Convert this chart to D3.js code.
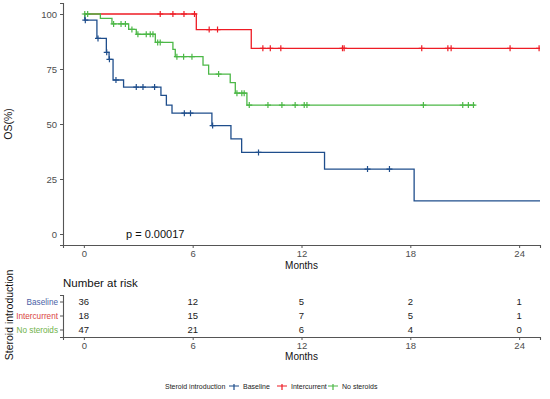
<!DOCTYPE html>
<html>
<head>
<meta charset="utf-8">
<script src="https://cdn.jsdelivr.net/npm/d3@7"></script>
<style>
  body { margin: 0; background: #fff; }
  text { font-family: "Liberation Sans", Arial, sans-serif; }
</style>
</head>
<body>
<div id="chart"></div>
<script>
// Data
const groups = ['Baseline', 'Intercurrent', 'No steroids'];
const colors = ['#1f4e8c', '#ee1c25', '#4cb847'];
const labelColors = ['#4a5fa6', '#d9453f', '#6fb24a'];

const baselineTimes = [0.05, 0.72, 1.24, 1.39, 1.61, 2.19, 4.25, 4.55, 4.86, 7.06, 8.11, 8.70, 13.27, 18.21];
const baselineSurv = [97.2, 88.9, 82.6, 79.4, 70.0, 66.8, 63.0, 58.6, 54.9, 49.3, 43.2, 37.1, 29.5, 15.1];
const baselineCensor = [0.08, 0.78, 1.26, 1.41, 1.77, 2.89, 3.26, 3.9, 5.54, 5.88, 7.1, 9.63, 15.64, 16.85];
const baselineEnd = 25.3;

const intercurrentTimes = [6.2, 9.23];
const intercurrentSurv = [92.9, 84.4];
const intercurrentCensor = [4.21, 4.91, 5.52, 6.1, 6.91, 7.37, 9.87, 10.28, 10.86, 14.26, 14.35, 18.63, 20.07, 20.25, 23.5, 25.1];
const intercurrentEnd = 25.3;

const noSteroidsTimes = [0.91, 1.55, 2.47, 2.89, 3.94, 4.91, 5.04, 6.57, 6.88, 8.07, 8.35, 8.99];
const noSteroidsSurv = [98.0, 95.5, 93.0, 90.8, 87.1, 83.9, 80.6, 76.8, 72.7, 68.8, 64.0, 58.6];
const noSteroidsCensor = [0.05, 0.21, 1.64, 2.05, 2.29, 2.65, 2.98, 3.44, 3.66, 3.81, 4.07, 4.21, 5.13, 5.5, 5.96,
    7.43, 8.44, 8.71, 8.84, 9.12, 10.15, 10.92, 11.65, 12.15, 12.3, 18.72, 20.89, 21.2, 21.48];
const noSteroidsEnd = 21.57;

const timeTicks = [0, 6, 12, 18, 24];
const survTicks = [0, 25, 50, 75, 100];
const riskBaseline = [36, 12, 5, 2, 1];
const riskIntercurrent = [18, 15, 7, 5, 1];
const riskNoSteroids = [47, 21, 6, 4, 0];

const series = [
    { times: baselineTimes, surv: baselineSurv, censor: baselineCensor, end: baselineEnd },
    { times: intercurrentTimes, surv: intercurrentSurv, censor: intercurrentCensor, end: intercurrentEnd },
    { times: noSteroidsTimes, surv: noSteroidsSurv, censor: noSteroidsCensor, end: noSteroidsEnd }
];
const riskRows = [riskBaseline, riskIntercurrent, riskNoSteroids];

const W = 550, H = 399;
const left = 63, right = 540;
const axisColor = '#555';

const svg = d3.select('#chart').append('svg')
    .attr('width', W)
    .attr('height', H);

const x = d3.scaleLinear().domain([-1.15, 25.15]).range([left, right]);
const y = d3.scaleLinear().domain([-5, 105]).range([245, 3]);

svg.append('clipPath').attr('id', 'panel')
    .append('rect')
    .attr('x', left).attr('y', 0)
    .attr('width', right - left).attr('height', 246);

// survival value at time t for one series
function survAt(s, t) {
    let v = 100;
    s.times.forEach((tt, i) => { if (tt <= t) v = s.surv[i]; });
    return v;
}

// axes of the main plot
const yAxis = svg.append('g')
    .attr('transform', `translate(${left},0)`)
    .call(d3.axisLeft(y).tickValues(survTicks).tickSize(3).tickPadding(3));
const xAxis = svg.append('g')
    .attr('transform', `translate(0,245)`)
    .call(d3.axisBottom(x).tickValues(timeTicks).tickSize(3).tickPadding(2));

[yAxis, xAxis].forEach(g => {
    g.select('.domain').attr('stroke', axisColor).attr('stroke-width', 1.1);
    g.selectAll('.tick line').attr('stroke', axisColor);
    g.selectAll('.tick text').attr('fill', '#4d4d4d').style('font-size', '9.5px');
});

// curves
const line = d3.line()
    .x(d => x(d[0]))
    .y(d => y(d[1]))
    .curve(d3.curveStepAfter);

const plot = svg.append('g').attr('clip-path', 'url(#panel)');

series.forEach((s, i) => {
    const pts = [[0, 100]];
    s.times.forEach((t, j) => pts.push([t, s.surv[j]]));
    pts.push([s.end, s.surv[s.surv.length - 1]]);

    plot.append('path')
        .datum(pts)
        .attr('fill', 'none')
        .attr('stroke', colors[i])
        .attr('stroke-width', 1.3)
        .attr('d', line);

    plot.selectAll(null)
        .data(s.censor)
        .enter()
        .append('path')
        .attr('transform', t => `translate(${x(t)},${y(survAt(s, t))})`)
        .attr('d', 'M-3,0H3M0,-3V3')
        .attr('stroke', colors[i])
        .attr('stroke-width', 1.2);
});

svg.append('text')
    .attr('x', 126).attr('y', 238)
    .style('font-size', '11px')
    .attr('fill', '#111')
    .text('p = 0.00017');

svg.append('text')
    .attr('x', (left + right) / 2).attr('y', 269)
    .attr('text-anchor', 'middle')
    .style('font-size', '10px')
    .attr('fill', '#111')
    .text('Months');

svg.append('text')
    .attr('transform', `translate(12,124) rotate(-90)`)
    .attr('text-anchor', 'middle')
    .style('font-size', '10.5px')
    .attr('fill', '#111')
    .text('OS(%)');

// risk table
svg.append('text')
    .attr('x', left).attr('y', 287)
    .style('font-size', '11.5px')
    .attr('fill', '#111')
    .text('Number at risk');

const yr = d3.scaleBand().domain(groups).range([295, 337]);

const rAxis = svg.append('g')
    .attr('transform', `translate(${left},0)`)
    .call(d3.axisLeft(yr).tickSize(3).tickPadding(2));
const rxAxis = svg.append('g')
    .attr('transform', `translate(0,337)`)
    .call(d3.axisBottom(x).tickValues(timeTicks).tickSize(3).tickPadding(2));

[rAxis, rxAxis].forEach(g => {
    g.select('.domain').attr('stroke', axisColor).attr('stroke-width', 1.1);
    g.selectAll('.tick line').attr('stroke', axisColor);
    g.selectAll('.tick text').style('font-size', '9.5px');
});
rxAxis.selectAll('.tick text').attr('fill', '#4d4d4d');
rAxis.selectAll('.tick text')
    .attr('fill', (d, i) => labelColors[i])
    .style('font-size', '8.2px');

riskRows.forEach((row, i) => {
    svg.selectAll(null)
        .data(row)
        .enter()
        .append('text')
        .attr('x', (d, j) => x(timeTicks[j]))
        .attr('y', yr(groups[i]) + yr.bandwidth() / 2)
        .attr('dy', '0.35em')
        .attr('text-anchor', 'middle')
        .style('font-size', '9.5px')
        .attr('fill', '#222')
        .text(d => d);
});

svg.append('text')
    .attr('x', (left + right) / 2).attr('y', 360)
    .attr('text-anchor', 'middle')
    .style('font-size', '10px')
    .attr('fill', '#111')
    .text('Months');

svg.append('text')
    .attr('transform', `translate(13,315) rotate(-90)`)
    .attr('text-anchor', 'middle')
    .style('font-size', '10.5px')
    .attr('fill', '#111')
    .text('Steroid introduction');

// legend
const legend = svg.append('g').attr('transform', 'translate(0,387)');
legend.append('text')
    .attr('x', 165).attr('y', 0).attr('dy', '0.35em')
    .style('font-size', '7px')
    .attr('fill', '#222')
    .text('Steroid introduction');

const legendX = [234, 282, 333];
groups.forEach((g, i) => {
    const k = legend.append('g').attr('transform', `translate(${legendX[i]},0)`);
    k.append('path')
        .attr('d', 'M-5,-1H5M0,-3V3')
        .attr('stroke', colors[i])
        .attr('stroke-width', 1.2);
    k.append('text')
        .attr('x', 9).attr('y', 0).attr('dy', '0.35em')
        .style('font-size', '7px')
        .attr('fill', '#222')
        .text(g);
});
</script>
</body>
</html>
